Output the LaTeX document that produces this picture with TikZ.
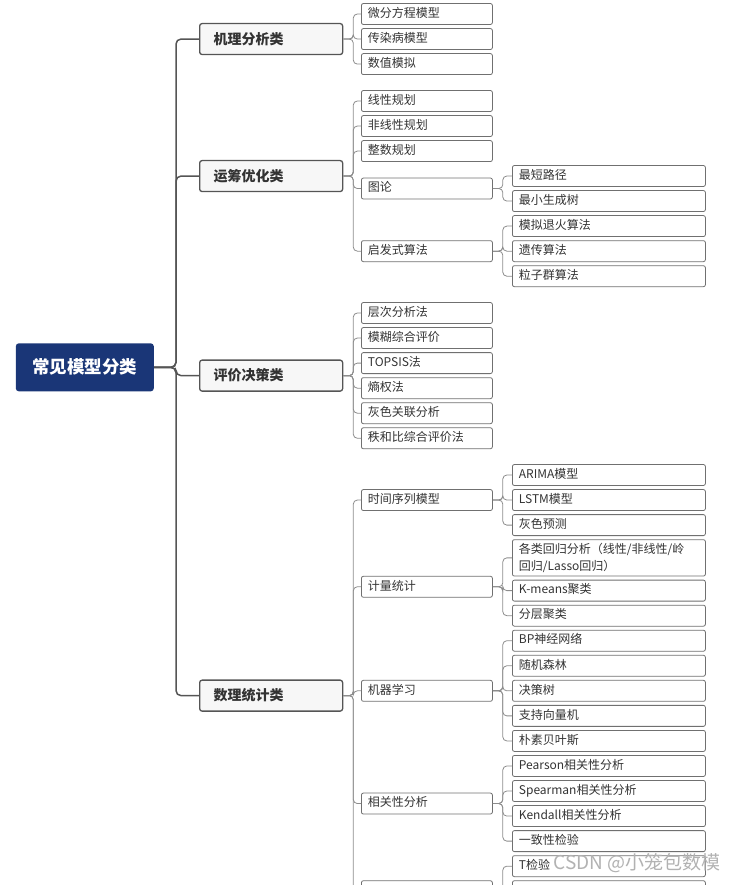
\documentclass[tikz,border=0pt]{standalone}
\usepackage{fontspec}
\setmainfont{Noto Sans CJK SC}
\usetikzlibrary{positioning, calc}

\definecolor{rootblue}{HTML}{1A3677}
\definecolor{catfill}{HTML}{F7F7F7}
\definecolor{linedark}{HTML}{555555}
\definecolor{linelight}{HTML}{8C8C8C}
\definecolor{boxline}{HTML}{707070}
\definecolor{textgray}{HTML}{333333}

\tikzstyle{root} = [fill=rootblue, text=white, rounded corners=3pt, minimum width=138pt, minimum height=48pt, font=\fontsize{17.5}{20}\selectfont\bfseries]
\tikzstyle{cat} = [draw=linedark, line width=1.3pt, fill=catfill, rounded corners=2.5pt, anchor=west, minimum width=143pt, minimum height=31pt, text width=115pt, inner xsep=14pt, align=left, text=textgray, font=\fontsize{14}{16}\selectfont\bfseries]
\tikzstyle{sub} = [draw=boxline, line width=0.8pt, fill=white, rounded corners=2pt, anchor=west, minimum height=21pt, text width=118pt, inner xsep=6.5pt, inner ysep=4pt, align=left, text=textgray, font=\fontsize{12}{17}\selectfont, text height=9.5pt, text depth=3pt]
\tikzstyle{leaf} = [sub, text width=180pt]
\tikzstyle{trunk} = [draw=linedark, line width=1.5pt, rounded corners=5pt]
\tikzstyle{branch} = [draw=linelight, line width=0.8pt, rounded corners=4pt]

\begin{document}
\begin{tikzpicture}[x=1pt, y=-1pt, node distance=3.25pt]
  \useasboundingbox (0,0) rectangle (736,885);
  \clip (0,0) rectangle (736,885);

  % leaves, top to bottom
  \node[leaf] (y4a) at (512,176) {最短路径};
  \node[leaf, below=of y4a] (y4b) {最小生成树};
  \node[leaf, below=of y4b] (y5a) {模拟退火算法};
  \node[leaf, below=of y5a] (y5b) {遗传算法};
  \node[leaf, below=of y5b] (y5c) {粒子群算法};

  \node[leaf] (s1a) at (512,475) {ARIMA模型};
  \node[leaf, below=of s1a] (s1b) {LSTM模型};
  \node[leaf, below=of s1b] (s1c) {灰色预测};
  \node[leaf, below=of s1c, text height={}, text depth={}, inner ysep=3.5pt] (s2a) {各类回归分析（线性/非线性/岭\\回归/Lasso回归）};
  \node[leaf, below=of s2a] (s2b) {K-means聚类};
  \node[leaf, below=of s2b] (s2c) {分层聚类};
  \node[leaf, below=of s2c] (s3a) {BP神经网络};
  \node[leaf, below=of s3a] (s3b) {随机森林};
  \node[leaf, below=of s3b] (s3c) {决策树};
  \node[leaf, below=of s3c] (s3d) {支持向量机};
  \node[leaf, below=of s3d] (s3e) {朴素贝叶斯};
  \node[leaf, below=of s3e] (s4a) {Pearson相关性分析};
  \node[leaf, below=of s4a] (s4b) {Spearman相关性分析};
  \node[leaf, below=of s4b] (s4c) {Kendall相关性分析};
  \node[leaf, below=of s4c] (s4d) {一致性检验};
  \node[leaf, below=of s4d] (s5a) {T检验};
  \node[leaf, below=of s5a] (s5b) {};
  \node[leaf, below=of s5b] (s5c) {};

  % second level
  \node[sub] (m1) at (361,14) {微分方程模型};
  \node[sub, below=of m1] (m2) {传染病模型};
  \node[sub, below=of m2] (m3) {数值模拟};

  \node[sub] (y1) at (361,101) {线性规划};
  \node[sub, below=of y1] (y2) {非线性规划};
  \node[sub, below=of y2] (y3) {整数规划};
  \node[sub] (y4) at ($(y4a.west)!.5!(y4b.west)+(-151,0)$) {图论};
  \node[sub] (y5) at ($(y5a.west)!.5!(y5c.west)+(-151,0)$) {启发式算法};

  \node[sub] (p1) at (361,313) {层次分析法};
  \node[sub, below=of p1] (p2) {模糊综合评价};
  \node[sub, below=of p2] (p3) {TOPSIS法};
  \node[sub, below=of p3] (p4) {熵权法};
  \node[sub, below=of p4] (p5) {灰色关联分析};
  \node[sub, below=of p5] (p6) {秩和比综合评价法};

  \node[sub] (s1) at ($(s1a.west)!.5!(s1c.west)+(-151,0)$) {时间序列模型};
  \node[sub] (s2) at ($(s2a.west)!.5!(s2c.west)+(-151,0)$) {计量统计};
  \node[sub] (s3) at ($(s3a.west)!.5!(s3e.west)+(-151,0)$) {机器学习};
  \node[sub] (s4) at ($(s4a.west)!.5!(s4d.west)+(-151,0)$) {相关性分析};
  \node[sub] (s5) at ($(s5a.west)!.5!(s5c.west)+(-151,0)$) {};

  % categories and root
  \node[cat] (m) at ($(m1.west)!.5!(m3.west)+(-162,0)$) {机理分析类};
  \node[cat] (y) at ($(y1.west)!.5!(y5.west)+(-162,0)$) {运筹优化类};
  \node[cat] (p) at ($(p1.west)!.5!(p6.west)+(-162,0)$) {评价决策类};
  \node[cat] (s) at ($(s1.west)!.5!(s5.west)+(-162,0)$) {数理统计类};
  \node[root, anchor=east] (root) at ($(m.west)!.5!(s.west)+(-45,0)$) {常见模型分类};

  % connectors
  \foreach \c in {m,y,p,s}
    \draw[trunk] (root.east) -- ++(22,0) |- (\c.west);
  \foreach \i in {1,2,3}
    \draw[branch] (m.east) -- ++(10,0) |- (m\i.west);
  \foreach \i in {1,...,5}
    \draw[branch] (y.east) -- ++(10,0) |- (y\i.west);
  \foreach \i in {1,...,6}
    \draw[branch] (p.east) -- ++(10,0) |- (p\i.west);
  \foreach \i in {1,...,5}
    \draw[branch] (s.east) -- ++(10,0) |- (s\i.west);
  \foreach \c in {a,b}
    \draw[branch] (y4.east) -- ++(10,0) |- (y4\c.west);
  \foreach \c in {a,b,c} {
    \draw[branch] (y5.east) -- ++(10,0) |- (y5\c.west);
    \draw[branch] (s1.east) -- ++(10,0) |- (s1\c.west);
    \draw[branch] (s2.east) -- ++(10,0) |- (s2\c.west);
    \draw[branch] (s5.east) -- ++(10,0) |- (s5\c.west);
  }
  \foreach \c in {a,b,c,d,e}
    \draw[branch] (s3.east) -- ++(10,0) |- (s3\c.west);
  \foreach \c in {a,b,c,d}
    \draw[branch] (s4.east) -- ++(10,0) |- (s4\c.west);

  % watermark
  \node[anchor=west, text=gray!60, font=\fontsize{19}{21}\selectfont] (mark) at (550,863) {CSDN @小笼包数模};
\end{tikzpicture}
\end{document}
